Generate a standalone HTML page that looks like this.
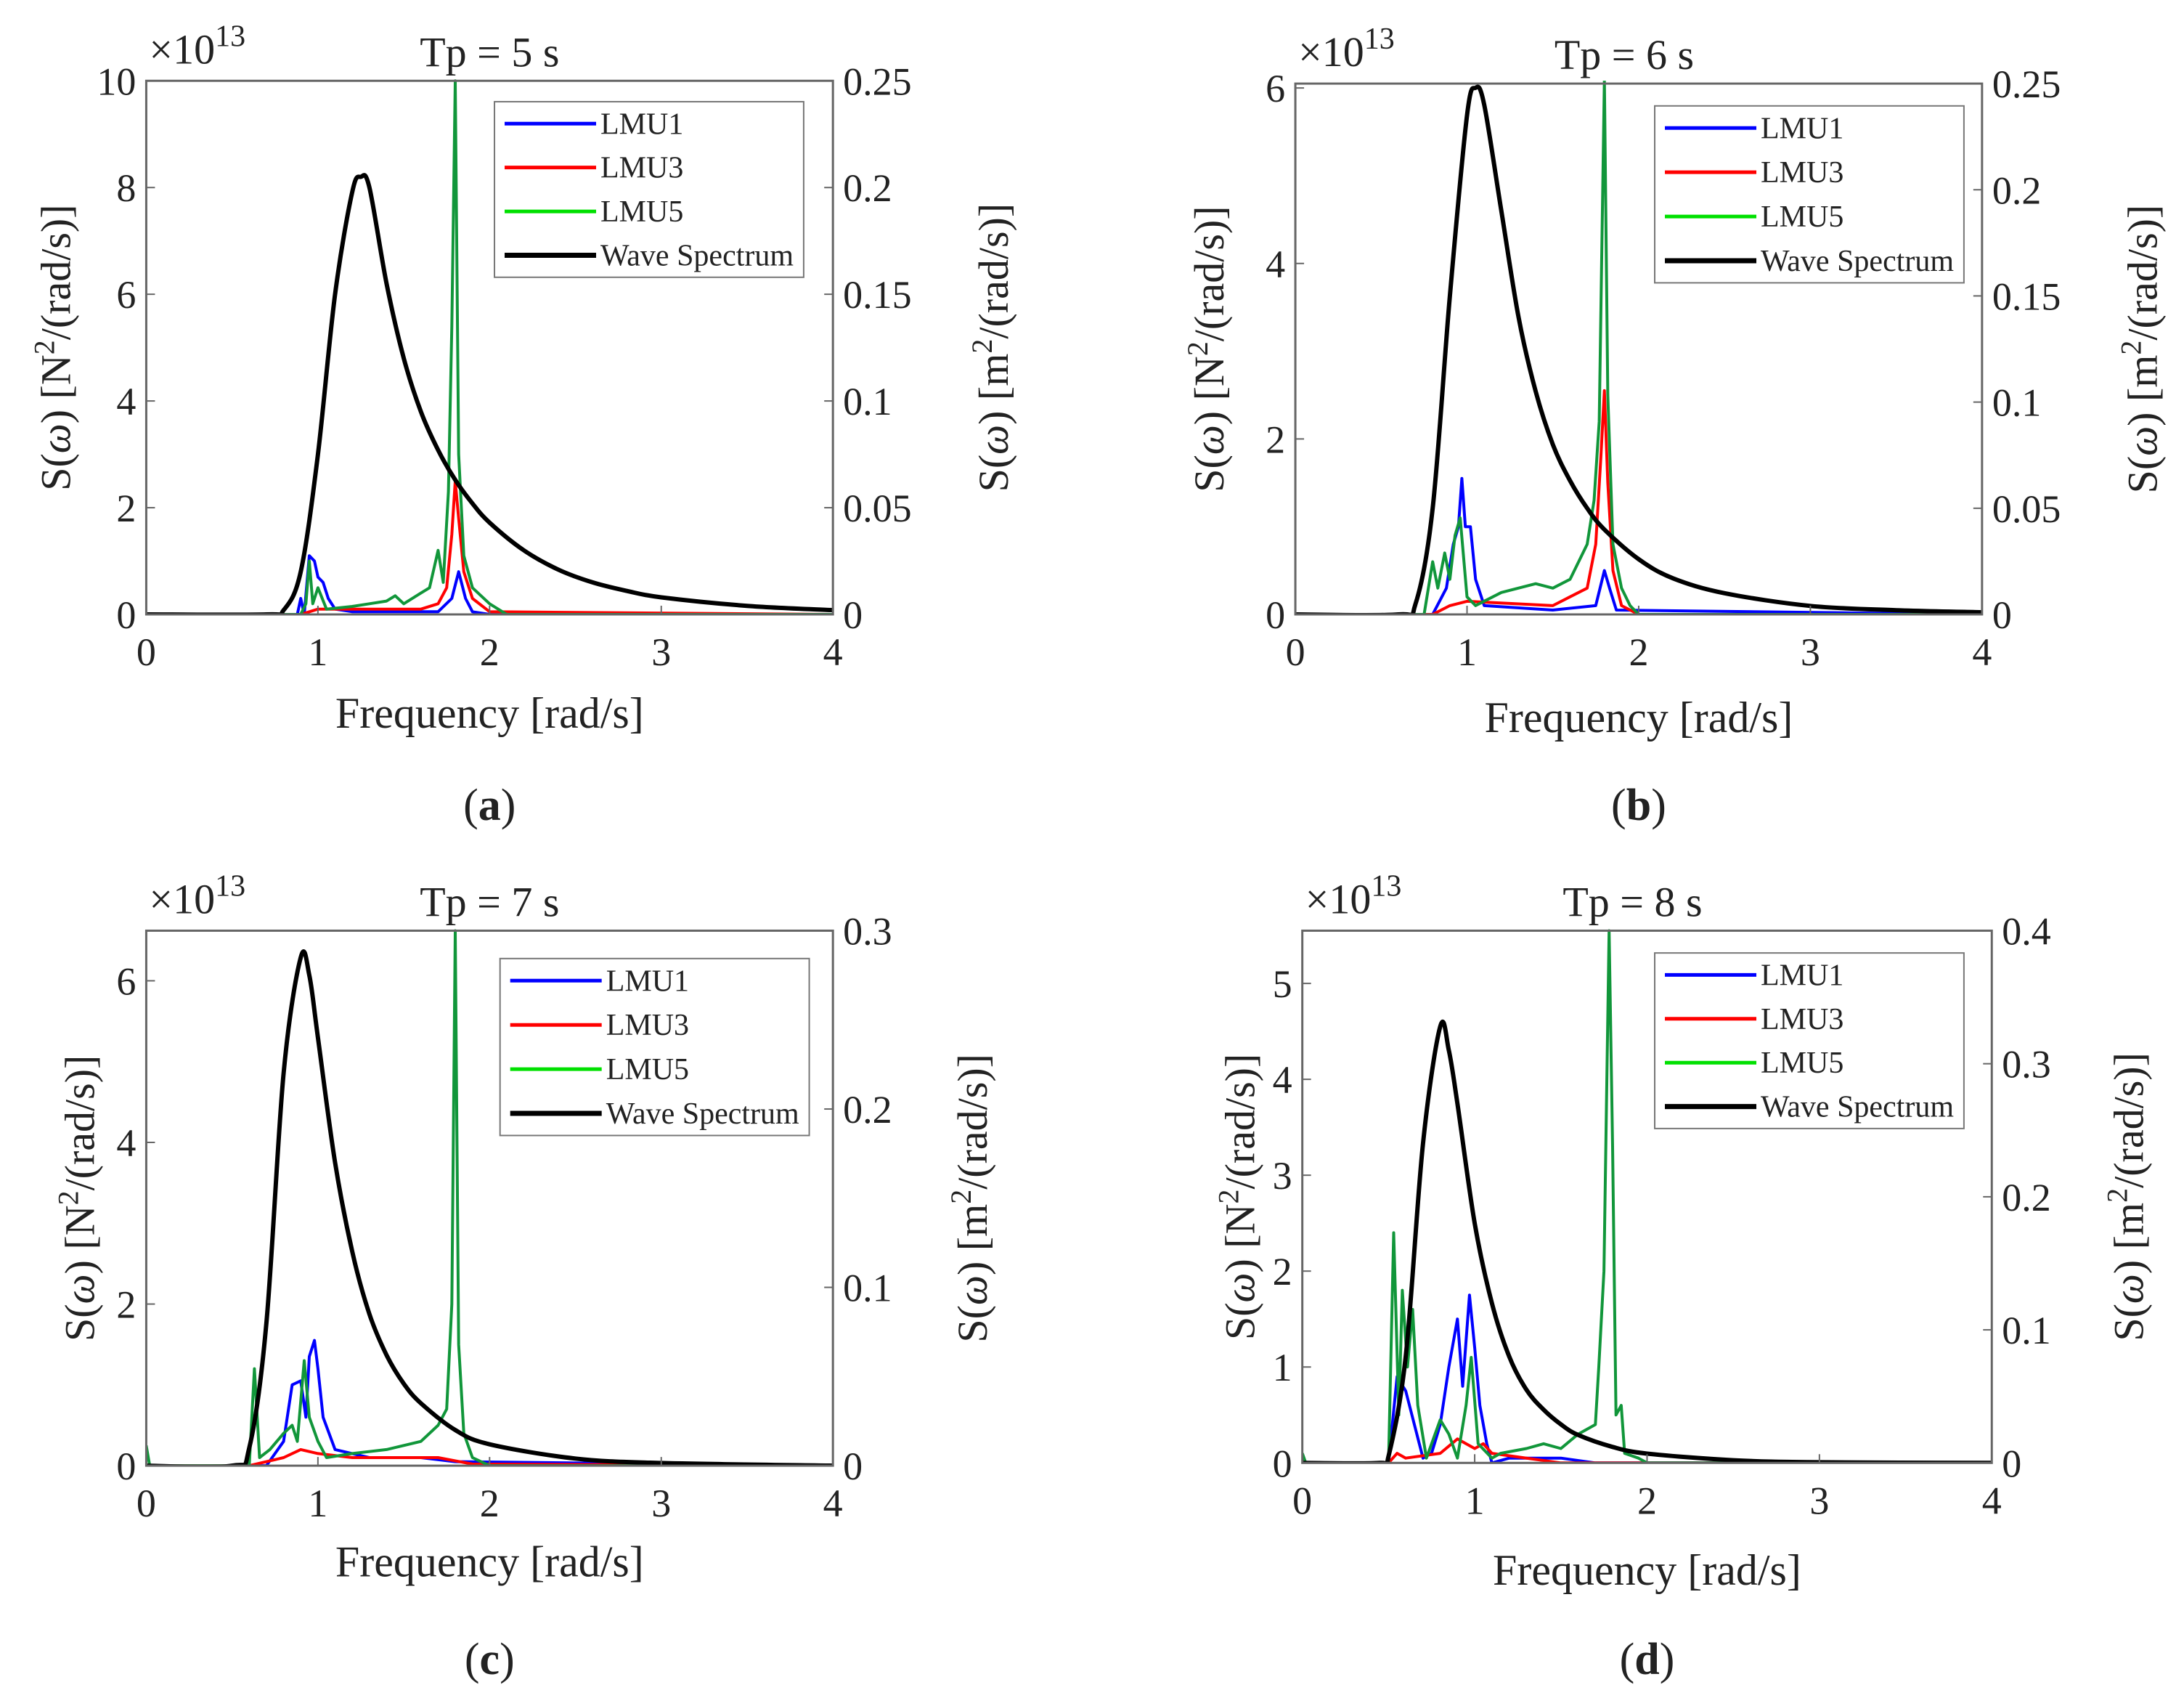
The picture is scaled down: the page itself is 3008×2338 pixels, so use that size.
<!DOCTYPE html>
<html><head><meta charset="utf-8"><style>
html,body{margin:0;padding:0;background:#fff}
svg{display:block}
text{font-family:"Liberation Serif","DejaVu Serif",serif;fill:#222}
</style></head><body>
<svg id="fig" width="3008" height="2338" viewBox="0 0 3008 2338" xmlns="http://www.w3.org/2000/svg"></svg>
<script>
// ---- data (frequency rad/s, values) ----
const waveXA=[0,0.7,0.8,0.9,1.0,1.1,1.2,1.25,1.3,1.4,1.5,1.6,1.7,1.8,1.9,2.0,2.2,2.4,2.6,2.8,3.0,3.5,4.0];
const waveYA=[0,0,0.002,0.02,0.075,0.15,0.198,0.205,0.2,0.155,0.12,0.095,0.077,0.063,0.052,0.043,0.03,0.021,0.015,0.011,0.008,0.004,0.002];
const waveXB=[0,0.6,0.7,0.8,0.9,1.0,1.05,1.1,1.2,1.3,1.4,1.5,1.6,1.7,1.8,2.0,2.2,2.5,3.0,3.5,4.0];
const waveYB=[0,0,0.005,0.05,0.15,0.235,0.248,0.24,0.19,0.14,0.105,0.08,0.063,0.05,0.04,0.026,0.017,0.01,0.004,0.002,0.001];
const waveXC=[0,0.5,0.6,0.7,0.8,0.9,0.95,1.0,1.1,1.2,1.3,1.4,1.5,1.6,1.8,2.0,2.5,3.0,4.0];
const waveYC=[0,0,0.01,0.08,0.22,0.285,0.275,0.24,0.17,0.12,0.085,0.062,0.046,0.035,0.02,0.012,0.004,0.0015,0];
const waveXD=[0,0.45,0.5,0.6,0.7,0.8,0.85,0.9,1.0,1.1,1.2,1.3,1.4,1.5,1.6,1.8,2.0,2.5,3.0,4.0];
const waveYD=[0,0,0.005,0.08,0.24,0.328,0.31,0.27,0.18,0.12,0.08,0.055,0.04,0.029,0.021,0.012,0.007,0.002,0.0005,0];

const lmu1XA=[0,0.88,0.9,0.92,0.95,0.98,1.0,1.03,1.06,1.1,1.2,1.5,1.7,1.78,1.82,1.86,1.9,2.0,4];
const lmu1YA=[0,0,0.3,0,1.1,1.0,0.7,0.6,0.3,0.1,0.05,0.05,0.05,0.3,0.8,0.3,0.05,0,0];
const lmu3XA=[0,0.9,1.0,1.3,1.6,1.7,1.75,1.78,1.8,1.82,1.85,1.9,2.0,4];
const lmu3YA=[0,0,0.1,0.1,0.1,0.2,0.5,1.5,2.5,1.8,0.8,0.3,0.05,0];
const lmu5XA=[0,0.9,0.93,0.95,0.97,1.0,1.05,1.2,1.3,1.4,1.45,1.5,1.6,1.65,1.7,1.73,1.76,1.78,1.8,1.82,1.85,1.9,2.0,2.05,2.1,4];
const lmu5YA=[0,0,0.2,1.0,0.2,0.5,0.1,0.15,0.2,0.25,0.35,0.2,0.4,0.5,1.2,0.6,2.3,5.4,10.0,3.0,1.1,0.5,0.2,0.1,0,0];

const lmu1XB=[0,0.8,0.88,0.92,0.95,0.97,0.99,1.02,1.05,1.1,1.5,1.75,1.8,1.83,1.87,4];
const lmu1YB=[0,0,0.3,0.8,1.0,1.55,1.0,1.0,0.4,0.1,0.05,0.1,0.5,0.3,0.05,0];
const lmu3XB=[0,0.8,0.9,1.0,1.5,1.7,1.75,1.78,1.8,1.82,1.85,1.9,2.0,4];
const lmu3YB=[0,0,0.1,0.15,0.1,0.3,0.8,1.8,2.55,1.5,0.5,0.1,0,0];
const lmu5XB=[0,0.75,0.8,0.83,0.87,0.9,0.93,0.96,1.0,1.05,1.2,1.4,1.5,1.6,1.7,1.74,1.77,1.8,1.82,1.85,1.9,1.95,2.0,4];
const lmu5YB=[0,0,0.6,0.3,0.7,0.4,0.9,1.1,0.2,0.1,0.25,0.35,0.3,0.4,0.8,1.3,2.2,6.1,2.5,0.8,0.3,0.1,0,0];

const lmu1XC=[0,0.7,0.8,0.85,0.9,0.93,0.95,0.98,1.0,1.03,1.1,1.3,1.6,1.8,4];
const lmu1YC=[0,0,0.3,1.0,1.05,0.6,1.35,1.55,1.2,0.6,0.2,0.1,0.1,0.05,0];
const lmu3XC=[0,0.6,0.8,0.9,1.0,1.2,1.5,1.7,1.9,4];
const lmu3YC=[0,0,0.1,0.2,0.15,0.1,0.1,0.1,0.02,0];
const lmu5XC=[0,0.02,0.6,0.63,0.66,0.72,0.8,0.85,0.88,0.92,0.95,1.0,1.05,1.2,1.4,1.6,1.7,1.75,1.78,1.8,1.82,1.85,1.9,2.0,4];
const lmu5YC=[0.25,0,0,1.2,0.1,0.2,0.4,0.5,0.3,1.3,0.6,0.3,0.1,0.15,0.2,0.3,0.5,0.7,2.0,6.62,1.5,0.4,0.1,0,0];

const lmu1XD=[0,0.5,0.55,0.6,0.65,0.7,0.75,0.8,0.85,0.9,0.93,0.97,1.0,1.03,1.07,1.1,1.2,1.5,1.7,4];
const lmu1YD=[0,0,0.9,0.75,0.4,0.05,0.1,0.4,1.0,1.5,0.8,1.75,1.2,0.6,0.2,0,0.05,0.05,0,0];
const lmu3XD=[0,0.5,0.55,0.6,0.8,0.9,1.0,1.05,1.1,1.5,4];
const lmu3YD=[0,0,0.1,0.05,0.1,0.25,0.15,0.2,0.1,0,0];
const lmu5XD=[0,0.02,0.5,0.53,0.56,0.58,0.61,0.64,0.67,0.72,0.8,0.85,0.9,0.95,0.98,1.02,1.1,1.15,1.3,1.4,1.5,1.6,1.7,1.72,1.75,1.78,1.8,1.82,1.85,1.87,1.95,2.0,4];
const lmu5YD=[0.1,0,0,2.4,0.5,1.8,1.0,1.6,0.6,0.05,0.45,0.3,0.05,0.6,1.1,0.2,0.05,0.1,0.15,0.2,0.15,0.3,0.4,1.0,2.0,5.55,3.3,0.5,0.6,0.1,0.05,0,0];

const xTicks=[0,1,2,3,4];
const leftTicksA=[0,2,4,6,8,10], rightTicksA=[0,0.05,0.1,0.15,0.2,0.25];
const leftTicksB=[0,2,4,6], rightTicksB=[0,0.05,0.1,0.15,0.2,0.25];
const leftTicksC=[0,2,4,6], rightTicksC=[0,0.1,0.2,0.3];
const leftTicksD=[0,1,2,3,4,5], rightTicksD=[0,0.1,0.2,0.3,0.4];
const titles=["Tp = 5 s","Tp = 6 s","Tp = 7 s","Tp = 8 s"];
const legendLabels=["LMU1","LMU3","LMU5","Wave Spectrum"];

const S=3008/1568;
const panels=[
 {id:'a',x0:105,x1:598,y0:58,y1:441,lmax:10,rmax:0.25,lt:leftTicksA,rt:rightTicksA,leg:[355,73,577,199],ll:40,rl:713,xl:513,cap:577,
  w:[waveXA,waveYA],s:[[lmu1XA,lmu1YA],[lmu3XA,lmu3YA],[lmu5XA,lmu5YA]]},
 {id:'b',x0:930,x1:1423,y0:60,y1:441,lmax:6.05,rmax:0.25,lt:leftTicksB,rt:rightTicksB,leg:[1188,76,1410,203],ll:868,rl:1538,xl:516,cap:577,
  w:[waveXB,waveYB],s:[[lmu1XB,lmu1YB],[lmu3XB,lmu3YB],[lmu5XB,lmu5YB]]},
 {id:'c',x0:105,x1:598,y0:668,y1:1052,lmax:6.62,rmax:0.3,lt:leftTicksC,rt:rightTicksC,leg:[359,688,581,815],ll:57,rl:698,xl:1122,cap:1190,
  w:[waveXC,waveYC],s:[[lmu1XC,lmu1YC],[lmu3XC,lmu3YC],[lmu5XC,lmu5YC]]},
 {id:'d',x0:935,x1:1430,y0:668,y1:1050,lmax:5.55,rmax:0.4,lt:leftTicksD,rt:rightTicksD,leg:[1188,684,1410,810],ll:890,rl:1528,xl:1128,cap:1190,
  w:[waveXD,waveYD],s:[[lmu1XD,lmu1YD],[lmu3XD,lmu3YD],[lmu5XD,lmu5YD]]}
];
const NS='http://www.w3.org/2000/svg';
const svg=document.getElementById('fig');
function mk(tag,attrs,parent){const e=document.createElementNS(NS,tag);for(const k in attrs)e.setAttribute(k,attrs[k]);(parent||svg).appendChild(e);return e;}
function smooth(pts){
  let d='M'+pts[0][0].toFixed(1)+','+pts[0][1].toFixed(1);
  for(let i=0;i<pts.length-1;i++){
    const p0=pts[Math.max(0,i-1)],p1=pts[i],p2=pts[i+1],p3=pts[Math.min(pts.length-1,i+2)];
    const c1x=p1[0]+(p2[0]-p0[0])/6,c1y=p1[1]+(p2[1]-p0[1])/6;
    const c2x=p2[0]-(p3[0]-p1[0])/6,c2y=p2[1]-(p3[1]-p1[1])/6;
    d+='C'+c1x.toFixed(1)+','+c1y.toFixed(1)+' '+c2x.toFixed(1)+','+c2y.toFixed(1)+' '+p2[0].toFixed(1)+','+p2[1].toFixed(1);
  }
  return d;
}
const seriesColors=['#0000ff','#ff0000','#11963a'];
const legendColors=['#0000ff','#ff0000','#00e000','#000000'];

panels.forEach((p,i)=>{
  const X0=p.x0*S,X1=p.x1*S,Y0=p.y0*S,Y1=p.y1*S;
  const sx=v=>X0+(v/4)*(X1-X0);
  const syL=v=>Y1-(v/p.lmax)*(Y1-Y0);
  const syR=v=>Y1-(v/p.rmax)*(Y1-Y0);
  const g=mk('g',{});
  
  
  const clipId='clip'+p.id;
  const cp=mk('clipPath',{id:clipId},g);
  mk('rect',{x:X0,y:Y0-4,width:X1-X0,height:Y1-Y0+4},cp);
  const plot=mk('g',{'clip-path':'url(#'+clipId+')'},g);
  
  
  const names=['lmu1','lmu3','lmu5'];
  p.s.forEach((sr,k)=>{
    const d=sr[0].map((x,j)=>(j?'L':'M')+sx(x).toFixed(1)+','+syL(sr[1][j]).toFixed(1)).join('');
    const pa=mk('path',{d:d,fill:'none',stroke:seriesColors[k],'stroke-width':4,'stroke-linejoin':'round'},plot);
    
    
  });
  const wpts=p.w[0].map((x,j)=>[sx(x),syR(p.w[1][j])]);
  const wp=mk('path',{d:smooth(wpts),fill:'none',stroke:'#000','stroke-width':6,'stroke-linejoin':'round'},plot);
  
  
  const fr=mk('rect',{x:X0,y:Y0,width:X1-X0,height:Y1-Y0,fill:'none',stroke:'#666','stroke-width':3},g);
  
  
  xTicks.forEach(t=>{
    mk('line',{x1:sx(t),x2:sx(t),y1:Y1,y2:Y1-12,stroke:'#666','stroke-width':2},g);
    const tx=mk('text',{x:sx(t),y:Y1+70,'font-size':54,'text-anchor':'middle'},g);tx.textContent=t;
    
    
  });
  p.lt.forEach(t=>{
    mk('line',{x1:X0,x2:X0+12,y1:syL(t),y2:syL(t),stroke:'#666','stroke-width':2},g);
    const tx=mk('text',{x:X0-14,y:syL(t)+19,'font-size':54,'text-anchor':'end'},g);tx.textContent=t;
    
    
  });
  p.rt.forEach(t=>{
    mk('line',{x1:X1,x2:X1-12,y1:syR(t),y2:syR(t),stroke:'#666','stroke-width':2},g);
    const tx=mk('text',{x:X1+14,y:syR(t)+19,'font-size':54,'text-anchor':'start'},g);tx.textContent=t;
    
    
  });
  const ex=mk('text',{x:X0+4,y:Y0-24,'font-size':58},g);
  
  
  ex.innerHTML='×10<tspan dy="-24" font-size="42">13</tspan>';
  const ti=mk('text',{x:(X0+X1)/2+(i%2?-20:0),y:Y0-20,'font-size':58,'text-anchor':'middle'},g);ti.textContent=titles[i];
  
  
  const xl=mk('text',{x:(X0+X1)/2,y:p.xl*S+18,'font-size':60,'text-anchor':'middle'},g);xl.textContent='Frequency [rad/s]';
  
  
  const cy=(Y0+Y1)/2;
  const yl=mk('text',{x:0,y:0,'font-size':58,'text-anchor':'middle',transform:'translate('+(p.ll*S+20)+','+cy+') rotate(-90)'},g);
  yl.innerHTML='S(<tspan font-style="italic">ω</tspan>) [N<tspan dy="-22" font-size="40">2</tspan><tspan dy="22">/(rad/s)]</tspan>';
  
  
  const yr=mk('text',{x:0,y:0,'font-size':58,'text-anchor':'middle',transform:'translate('+(p.rl*S+20)+','+cy+') rotate(-90)'},g);
  yr.innerHTML='S(<tspan font-style="italic">ω</tspan>) [m<tspan dy="-22" font-size="40">2</tspan><tspan dy="22">/(rad/s)]</tspan>';
  
  
  const L=p.leg.map(v=>v*S);
  const lg=mk('g',{},g);
  
  
  mk('rect',{x:L[0],y:L[1],width:L[2]-L[0],height:L[3]-L[1],fill:'#fff',stroke:'#777','stroke-width':2},lg);
  const step=(L[3]-L[1])/4;
  legendLabels.forEach((lab,k)=>{
    const yy=L[1]+step*(k+0.5);
    const en=mk('g',{},lg);
    
    
    mk('line',{x1:L[0]+14,x2:L[0]+140,y1:yy,y2:yy,stroke:legendColors[k],'stroke-width':k==3?7:5},en);
    const t=mk('text',{x:L[0]+146,y:yy+14,'font-size':42},en);t.textContent=lab;
  });
  const ca=mk('text',{x:(X0+X1)/2,y:p.cap*S+22,'font-size':62,'text-anchor':'middle'},g);
  ca.innerHTML='(<tspan font-weight="bold">'+p.id+'</tspan>)';
  
  
});
</script>
</body></html>
